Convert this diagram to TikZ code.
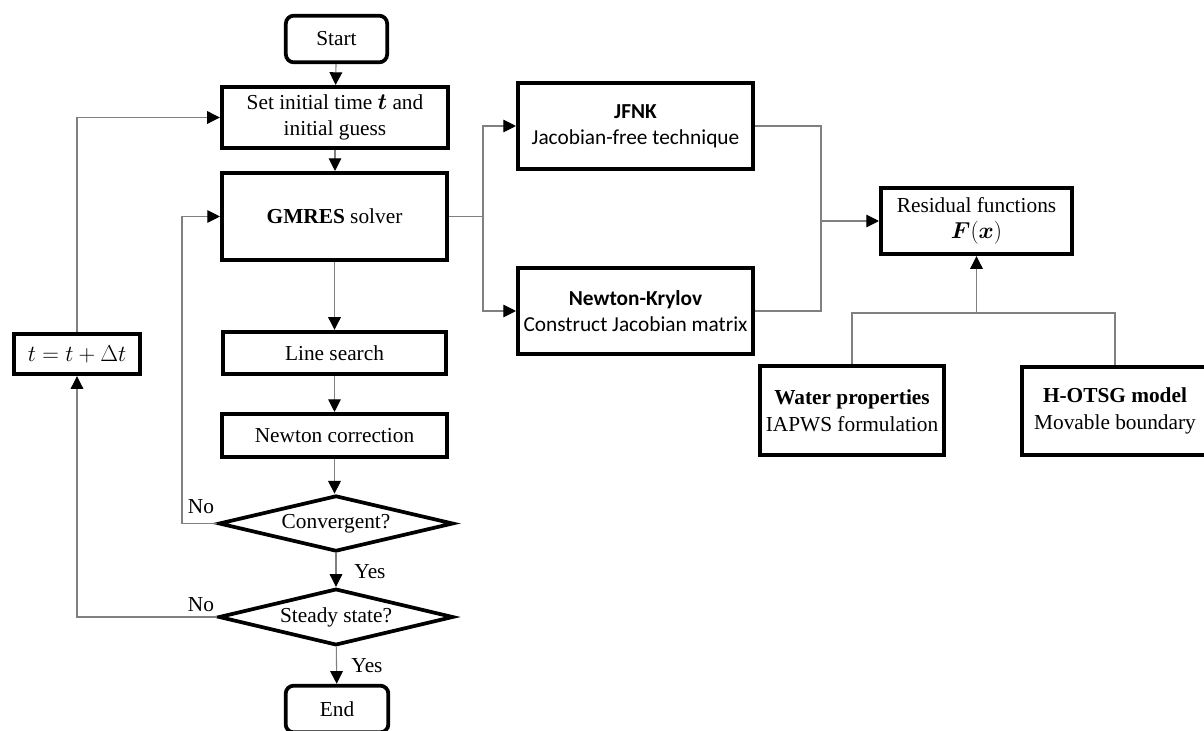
\documentclass[tikz,border=0pt]{standalone}
\usepackage{amsmath,bm}
\usepackage{fontspec}
\setmainfont{Liberation Serif}
\newfontfamily\calib{Carlito}
\usetikzlibrary{shapes.geometric,arrows.meta}
\begin{document}
\begin{tikzpicture}[x=0.75pt,y=-0.75pt,
  box/.style={draw,line width=2.8pt,align=center,inner sep=0pt,font=\fontsize{16}{19.5}\selectfont},
  term/.style={box,rounded corners=6pt},
  dec/.style={box,diamond,aspect=4},
  conn/.style={draw=black!50,line width=0.8pt},
  arr/.style={conn,-{Triangle[length=9.5pt,width=9.5pt,color=black]}},
  lbl/.style={font=\fontsize{16}{19}\selectfont,inner sep=0pt}]
\useasboundingbox (0,0) rectangle (1204,731);

\node[term,minimum width=76pt,minimum height=35pt] (start) at (336.5,39) {Start};
\node[box,minimum width=170pt,minimum height=46pt] (init) at (335,117.5) {Set initial time $\bm{t}$ and\\initial guess};
\node[box,minimum width=169pt,minimum height=65.5pt] (gmres) at (334.5,216.5) {\textbf{GMRES} solver};
\node[box,minimum width=167.5pt,minimum height=32pt] (ls) at (334.5,353) {Line search};
\node[box,minimum width=169pt,minimum height=32.5pt] (nc) at (334.5,435.5) {Newton correction};
\node[dec,minimum width=176pt,minimum height=42pt] (conv) at (336,523.5) {Convergent?};
\node[dec,minimum width=176pt,minimum height=42.5pt] (steady) at (336,617) {Steady state?};
\node[term,minimum width=77pt,minimum height=35pt] (end) at (337,709) {End};
\node[box,minimum width=95pt,minimum height=30.5pt] (tb) at (77,354) {$t = t + \Delta t$};

\node[box,minimum width=176.5pt,minimum height=65pt,font=\calib\fontsize{16}{19.5}\selectfont] (jfnk) at (635.5,126) {\textbf{JFNK}\\Jacobian-free technique};
\node[box,minimum width=176.5pt,minimum height=65pt,font=\calib\fontsize{16}{19.5}\selectfont] (nk) at (635.5,311) {\textbf{Newton-Krylov}\\Construct Jacobian matrix};
\node[box,minimum width=143.5pt,minimum height=50pt,font=\fontsize{16}{20}\selectfont] (res) at (976.5,221) {Residual functions\\$\bm{F}(\bm{x})$};
\node[box,minimum width=138.5pt,minimum height=67pt,font=\fontsize{16}{20}\selectfont] (water) at (852,410.5) {\textbf{Water properties}\\IAPWS formulation};
\node[box,minimum width=140pt,minimum height=66.5pt,font=\fontsize{16}{20}\selectfont] (hotsg) at (1115,411) {\textbf{H-OTSG model}\\Movable boundary};

\coordinate (br) at (483,216.5);
\coordinate (j2) at (821,221);
\coordinate (j3) at (976.5,313);
\coordinate (nox) at (182,216.5);

\draw[arr] (start) -- (init);
\draw[arr] (init) -- (init.south |- gmres.north);
\draw[arr] (gmres.south) -- (gmres.south |- ls.north);
\draw[arr] (ls) -- (nc);
\draw[arr] (nc.south) -- (nc.south |- conv.north);
\draw[arr] (conv) -- (steady);
\draw[arr] (steady) -- (end);
\draw[arr] (conv.west) -| (nox) -- (gmres.west);
\draw[arr] (steady.west) -| (tb.south);
\draw[arr] (tb.north) |- (init.west);

\draw[conn] (gmres.east) -- (br);
\draw[arr] (br) |- (jfnk.west);
\draw[arr] (br) |- (nk.west);
\draw[conn] (jfnk.east) -| (j2) |- (nk.east);
\draw[arr] (j2) -- (res.west);
\draw[conn] (water.north) |- (j3) -| (hotsg.north);
\draw[arr] (j3) -- (res.south);

\node[lbl] (no1) at (201,507) {No};
\node[lbl] (no2) at (201,605) {No};
\node[lbl] (yes1) at (370,572) {Yes};
\node[lbl] (yes2) at (367,666) {Yes};
\end{tikzpicture}
\end{document}
